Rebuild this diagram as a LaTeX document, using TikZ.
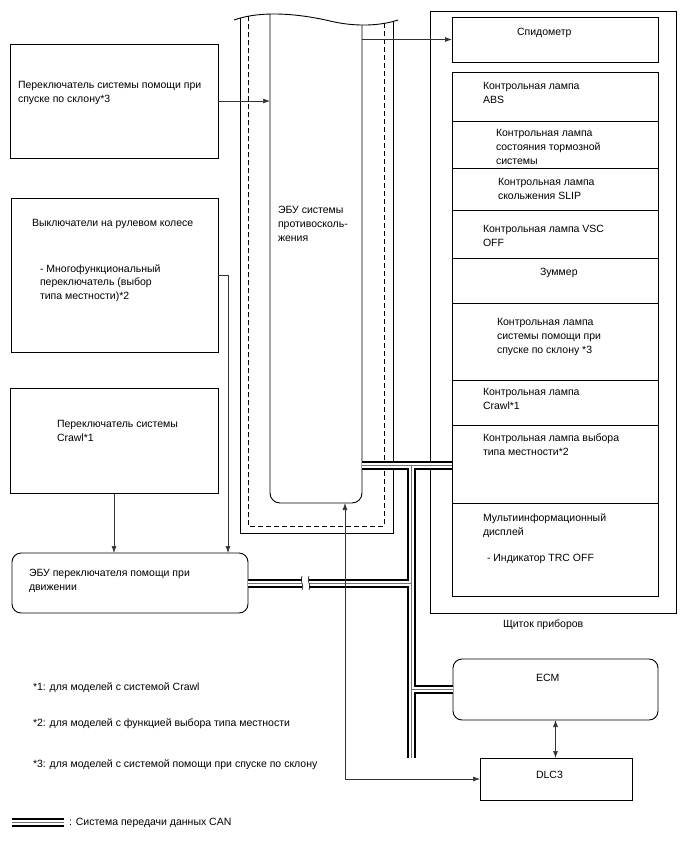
\documentclass[tikz,border=0pt]{standalone}
\usepackage{fontspec}
\setmainfont{Liberation Sans}
\usepackage{tikz}
\usetikzlibrary{arrows.meta,calc,positioning}

\begin{document}
\begin{tikzpicture}[
    x=1pt, y=-1pt,
    every node/.style={inner sep=0pt, outer sep=0pt},
    box/.style={rectangle, draw, line width=0.9pt, anchor=north west},
    rbox/.style={box, rounded corners=9pt},
    lamp/.style={box, minimum width=206pt},
    txt/.style={anchor=base west, align=left, font=\fontsize{10.5}{13.8}\selectfont},
    arr/.style={-{Latex[length=7pt,width=5pt]}, line width=0.7pt, black!80},
    darr/.style={{Latex[length=7pt,width=5pt]}-{Latex[length=7pt,width=5pt]}, line width=0.7pt, black!80},
    wall/.style={line width=0.9pt},
    shield/.style={line width=0.9pt, dash pattern=on 5pt off 3pt},
    canout/.style={line width=9pt, black},
    canin/.style={line width=5pt, white},
    canmid/.style={line width=0.8pt, black!55},
]
\useasboundingbox (0,0) rectangle (688,852);

% Switches (left)
\node[box, minimum width=208pt, minimum height=114pt] (hdcsw) at (10,44) {};
\node[txt] (hdcswtxt) at (18,102.3) {Переключатель системы помощи при\\спуске по склону*3};
\node[box, minimum width=207pt, minimum height=154pt] (steer) at (11,198) {};
\node[txt] (steertxt) at (32,226.5) {Выключатели на рулевом колесе};
\node[txt] (mfswtxt) at (40,299.6) {- Многофункциональный\\переключатель (выбор\\типа местности)*2};
\node[box, minimum width=208pt, minimum height=105pt] (crawl) at (10,388) {};
\node[txt] (crawltxt) at (57,441.3) {Переключатель системы\\Crawl*1};
% Driving support switch ECU
\node[rbox, minimum width=236pt, minimum height=60pt] (swecu) at (12,553) {};
\node[txt] (swecutxt) at (29,590.3) {ЭБУ переключателя помощи при\\движении};

% Skid control ECU (cut away at the top)
\node[minimum width=92pt, minimum height=487pt, anchor=north west] (ecu) at (270,16) {};
\begin{scope}
  \clip (234,20) .. controls (262,10) and (300,14) .. (330,21)
        .. controls (355,27) and (380,26) .. (398,20) -- (398,600) -- (234,600) -- cycle;
  \draw[wall] (240,0) |- (393,533) -- (393,0);
  \draw[shield] (248,0) |- (384,526) -- (384,0);
  \draw[wall, rounded corners=10pt] (ecu.west |- 0,0) -- (ecu.south west)
        -- (ecu.south east) -- (ecu.east |- 0,0);
\end{scope}
\draw[wall] (234,20) .. controls (262,10) and (300,14) .. (330,21)
      .. controls (355,27) and (380,26) .. (398,20);
\node[txt] (ecutxt) at (278,241.1) {ЭБУ системы\\противосколь-\\жения};

% Combination meter
\node[box, minimum width=246pt, minimum height=602pt] (meter) at (430,11) {};
\node[txt] (metertxt) at (503,627) {Щиток приборов};
\node[box, minimum width=206pt, minimum height=45pt] (speedo) at (452,17) {};
\node[txt] (speedotxt) at (517,35) {Спидометр};
\node[lamp, minimum height=49pt] (abs) at (452,72) {};
\node[lamp, minimum height=47pt, below=0pt of abs] (brake) {};
\node[lamp, minimum height=42pt, below=0pt of brake] (slip) {};
\node[lamp, minimum height=48pt, below=0pt of slip] (vsc) {};
\node[lamp, minimum height=45pt, below=0pt of vsc] (buzzer) {};
\node[lamp, minimum height=77pt, below=0pt of buzzer] (hdc) {};
\node[lamp, minimum height=45pt, below=0pt of hdc] (crawlind) {};
\node[lamp, minimum height=78pt, below=0pt of crawlind] (terrain) {};
\node[lamp, minimum height=93pt, below=0pt of terrain] (mid) {};
\node[txt] (abstxt) at (483,103.3) {Контрольная лампа\\ABS};
\node[txt] (braketxt) at (496,164.1) {Контрольная лампа\\состояния тормозной\\системы};
\node[txt] (sliptxt) at (498,199.3) {Контрольная лампа\\скольжения SLIP};
\node[txt] (vsctxt) at (483,246.3) {Контрольная лампа VSC\\OFF};
\node[txt] (buzzertxt) at (540,275.5) {Зуммер};
\node[txt] (hdctxt) at (497,353.1) {Контрольная лампа\\системы помощи при\\спуске по склону *3};
\node[txt] (crawlindtxt) at (483,409.3) {Контрольная лампа\\Crawl*1};
\node[txt] (terraintxt) at (483,455.3) {Контрольная лампа выбора\\типа местности*2};
\node[txt] (midtxt) at (483,535.3) {Мультиинформационный\\дисплей};
\node[txt] (trctxt) at (487,561.5) {- Индикатор TRC OFF};

% ECM, DLC3
\node[rbox, minimum width=205pt, minimum height=61pt] (ecm) at (453,659) {};
\node[txt] (ecmtxt) at (536,681) {ECM};
\node[box, minimum width=152pt, minimum height=42pt] (dlc) at (480,758) {};
\node[txt] (dlctxt) at (536,778) {DLC3};

% Notes
\node[txt] (note1) at (33,690) {*1: для моделей с системой Crawl};
\node[txt] (note2) at (33,726) {*2: для моделей с функцией выбора типа местности};
\node[txt] (note3) at (33,767) {*3: для моделей с системой помощи при спуске по склону};
\coordinate (legA) at (12,822);
\coordinate (legB) at (64,822);
\node[txt] (legtxt) at (69,825.5) {: Система передачи данных CAN};

% CAN bus
\coordinate (jtop) at (411,465);
\coordinate (jend) at (411,758);
\foreach \lay in {canout,canin,canmid}
  \draw[\lay] (jtop -| ecu.east) -- (jtop -| abs.west)
              (jtop) -- (jend)
              (swecu.east) -- (swecu.east -| jtop)
              (ecm.west) -- (ecm.west -| jtop)
              (legA) -- (legB);
\fill[white] (302,577) rectangle (309,589);
\draw[line width=0.6pt] (302,576) .. controls (299,581) and (305,585) .. (302,590)
                        (309,576) .. controls (306,581) and (312,585) .. (309,590);

% Arrows
\draw[arr] (hdcsw.east) -- (hdcsw.east -| ecu.west);
\draw[arr] (speedo.west -| ecu.east) -- (speedo.west);
\draw[arr] ($(steer.north east)+(0,77)$) -| ([xshift=216pt]swecu.north west);
\draw[arr] (crawl.south) -- (crawl.south |- swecu.north);
\draw[darr] (ecm.south) -- (ecm.south |- dlc.north);
\draw[darr] (dlc.west) -| ([xshift=75pt]ecu.south west);
\end{tikzpicture}
\end{document}
